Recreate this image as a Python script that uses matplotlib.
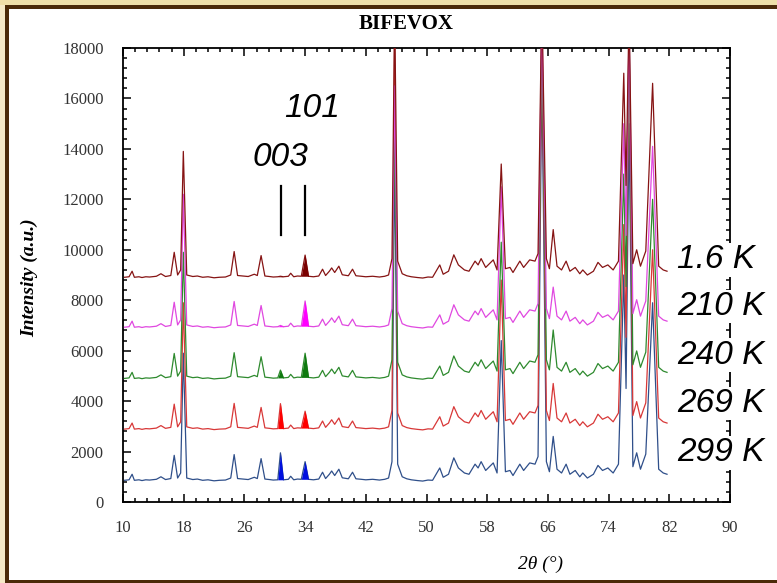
import numpy as np
import matplotlib
matplotlib.use('Agg')
from matplotlib import pyplot as plt
from matplotlib.patches import Rectangle

# 2theta vertices of the powder patterns (deg)
two_theta = [10.2, 10.8, 11.2, 11.5, 12.1, 12.5, 13.0, 13.5, 14.4, 15.0,
             15.6, 16.3, 16.75, 17.2, 17.6, 17.95, 18.4, 19.2, 19.8, 20.5,
             21.2, 22.0, 22.7, 23.5, 24.2, 24.65, 25.1, 25.8, 26.5, 27.3,
             27.7, 28.2, 28.7, 29.3, 29.8, 30.4, 30.75, 31.15, 31.8, 32.1,
             32.5, 33.0, 33.5, 34.0, 34.45, 35.1, 35.8, 36.3, 36.7, 37.2,
             37.5, 37.9, 38.45, 38.9, 39.7, 40.25, 40.7, 41.4, 42.0, 42.9,
             43.8, 44.5, 45.0, 45.45, 45.8, 46.2, 46.8, 47.4, 48.0, 48.8,
             49.5, 50.2, 50.8, 51.75, 52.2, 52.9, 53.6, 54.2, 55.0, 55.6,
             56.4, 56.8, 57.2, 57.8, 58.8, 59.3, 59.85, 60.4, 61.0, 61.4,
             62.3, 62.8, 63.6, 64.3, 64.7, 65.2, 65.8, 66.2, 66.7, 67.2,
             67.8, 68.4, 68.9, 69.6, 70.2, 70.6, 71.2, 72.0, 72.6, 73.2,
             73.9, 74.6, 75.3, 76.0, 76.3, 76.7, 77.2, 77.7, 78.2, 78.9,
             79.8, 80.6, 81.2, 81.7]

# 299 K pattern (lowest trace), other temperatures are stacked on top of it
profile_299K = [860, 880, 1100, 860, 880, 850, 880, 870, 900, 1000,
                890, 930, 1850, 950, 1150, 5900, 950, 890, 910, 860,
                880, 840, 860, 870, 950, 1880, 930, 910, 890, 980,
                930, 1720, 910, 890, 870, 880, 1950, 880, 900, 1020,
                880, 910, 900, 1600, 900, 880, 910, 1180, 930, 1100,
                1230, 1050, 1300, 960, 920, 1180, 920, 900, 880, 900,
                870, 900, 950, 1600, 14000, 1500, 1000, 920, 880, 850,
                830, 870, 860, 1350, 980, 1100, 1750, 1350, 1150, 1100,
                1500, 1350, 1600, 1250, 1550, 1150, 6400, 1200, 1250, 1050,
                1500, 1250, 1550, 1500, 1800, 17000, 1600, 1200, 2600, 1300,
                1150, 1500, 1100, 1250, 1000, 1150, 950, 1100, 1450, 1250,
                1350, 1150, 1500, 9000, 4500, 15000, 1400, 1950, 1300, 1900,
                7900, 1300, 1150, 1100]

temperatures = ['299 K', '269 K', '240 K', '210 K', '1.6 K']
offsets = [0, 2030, 4040, 6070, 8050]

# reflections whose intensity changes with temperature
peak_pos = [17.95, 30.75, 34.0, 45.8, 59.85, 65.2, 66.7, 76.0, 76.7, 79.8]
peaks_299K = [5900, 1950, 1600, 14000, 6400, 17000, 2600, 9000, 15000, 7900]
peaks_269K = [7900, 3900, 3600, 18500, 8800, 18500, 4700, 11000, 18500, 10000]
peaks_240K = [9900, 5230, 5900, 15000, 10300, 19000, 6820, 13000, 19000, 12000]
peaks_210K = [12200, 7000, 7970, 16500, 12500, 19500, 8520, 15000, 19000, 14100]
peaks_1_6K = [13900, 8950, 9790, 19500, 13400, 20000, 10800, 17000, 19500, 16600]
peak_table = [peaks_299K, peaks_269K, peaks_240K, peaks_210K, peaks_1_6K]

line_colors = ['#2f4f8a', '#d83838', '#2e8a2e', '#e048e0', '#861414']
fill_colors = ['#0010e0', '#ff0000', '#0f7a0f', '#ff00ff', '#7a0000']

# label positions (y in data units)
label_y = [1950, 3900, 5820, 7750, 9600]

# 003 and 101 windows that get shaded
windows = [(30.4, 31.15), (33.5, 34.45)]


def build_curve(i):
    y = np.array(profile_299K, dtype=float) + offsets[i]
    for pos, h in zip(peak_pos, peak_table[i]):
        y[two_theta.index(pos)] = h
    return y


fig = plt.figure(figsize=(7.77, 5.83), dpi=100)
fig.patch.set_facecolor('white')

# page border: beige strip and brown frame
fig.patches.append(Rectangle((0, 0), 5/777, 1, transform=fig.transFigure,
                             facecolor='#f5e9c6', edgecolor='none', zorder=0))
fig.patches.append(Rectangle((0, 1 - 5/583), 1, 5/583, transform=fig.transFigure,
                             facecolor='#efdfa8', edgecolor='none', zorder=0))
fig.patches.append(Rectangle((5/777, 0), 4/777, 1 - 5/583, transform=fig.transFigure,
                             facecolor='#4b2a08', edgecolor='none', zorder=0))
fig.patches.append(Rectangle((5/777, 1 - 9/583), 1 - 5/777, 4/583, transform=fig.transFigure,
                             facecolor='#4b2a08', edgecolor='none', zorder=0))
fig.patches.append(Rectangle((5/777, 0), 1 - 5/777, 3/583, transform=fig.transFigure,
                             facecolor='#4b2a08', edgecolor='none', zorder=0))

ax = fig.add_axes([123/777, 1 - 502/583, 607/777, 454/583])
x = np.array(two_theta)

for i in range(len(temperatures)):
    y = build_curve(i)
    ax.plot(x, y, color=line_colors[i], lw=0.9, zorder=2 + i)
    for lo, hi in windows:
        m = (x >= lo) & (x <= hi)
        base = min(y[m][0], y[m][-1])
        ax.fill_between(x[m], y[m], base, color=fill_colors[i], lw=0, zorder=2.5 + i)

ax.set_xlim(10, 90)
ax.set_ylim(0, 18000)
ax.set_xticks(np.arange(10, 91, 8))
ax.set_xticks(np.arange(10, 90.01, 1.6), minor=True)
ax.set_yticks(np.arange(0, 18001, 2000))
ax.set_yticks(np.arange(0, 18001, 400), minor=True)
ax.tick_params(which='both', direction='in', top=True, right=True, width=1.1)
ax.tick_params(which='major', length=6)
ax.tick_params(which='minor', length=3)
ax.tick_params(axis='y', pad=14, labelsize=12, labelcolor='#333333')
ax.tick_params(axis='x', pad=13, labelsize=12, labelcolor='#333333')
for lab in ax.get_xticklabels() + ax.get_yticklabels():
    lab.set_family('Liberation Serif')
for s in ax.spines.values():
    s.set_linewidth(1.3)

# reflection markers
ax.plot([30.8, 30.8], [10586, 12528], color='black', lw=1.6, zorder=10)
ax.plot([34.0, 34.0], [10586, 12528], color='black', lw=1.6, zorder=10)
ax.text(30.7, 13640, '003', fontsize=24, style='italic', family='Liberation Sans',
        ha='center', va='center', zorder=10)
ax.text(34.9, 15620, '101', fontsize=24, style='italic', family='Liberation Sans',
        ha='center', va='center', zorder=10)

for i, t in enumerate(temperatures):
    ax.text(83.0, label_y[i], t, fontsize=24, style='italic', family='Liberation Sans',
            ha='left', va='center', clip_on=False, zorder=20,
            bbox=dict(facecolor='white', edgecolor='none', pad=1))

fig.text(406/777, 1 - 24/583, 'BIFEVOX', fontsize=15, weight='bold',
         family='Liberation Serif', ha='center', va='center')
fig.text(30/777, 1 - 278/583, 'Intensity (a.u.)', fontsize=14, weight='bold',
         style='italic', family='Liberation Serif', rotation=90,
         ha='center', va='center')
fig.text(540/777, 1 - 564/583, '2θ (°)', fontsize=14, style='italic',
         family='Liberation Serif', ha='center', va='center')

fig.savefig('out.png', dpi=100)
